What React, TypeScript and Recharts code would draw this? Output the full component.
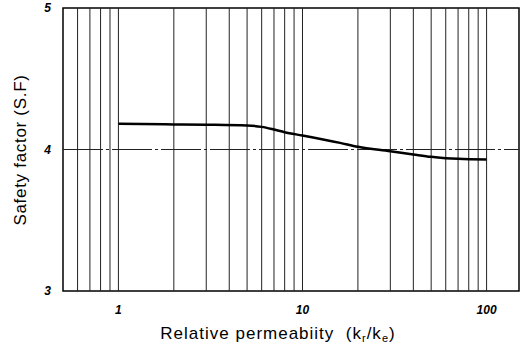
import React from 'react';
import { LineChart, Line, XAxis, YAxis, ReferenceLine, ReferenceArea, Label } from 'recharts';

// k_r / k_e values along the curve and the safety factor read at each
const permeability = [1, 2, 3, 5, 6, 7, 8, 10, 16, 20, 30, 40, 50, 60, 70, 100];
const safetyFactor = [4.182, 4.177, 4.175, 4.17, 4.16, 4.141, 4.122, 4.099, 4.047, 4.019, 3.988, 3.965, 3.948, 3.939, 3.934, 3.929];

const xTicks = [1, 10, 100];
const yTicks = [3, 4, 5];
const gridValues = [0.6, 0.7, 0.8, 0.9, 1, 2, 3, 4, 5, 6, 7, 8, 9, 10, 20, 30, 40, 50, 60, 70, 80, 90, 100];

const data = permeability.map((k, i) => ({ k, sf: safetyFactor[i] }));

const tickStyle = { fontSize: 12, fontWeight: 'bold', fontStyle: 'italic', fill: '#000', fontFamily: 'Liberation Sans, Arial, sans-serif' };
const titleFont = 'Liberation Sans, Arial, sans-serif';

const XTitle = () => (
  <text x={278} y={339} textAnchor="middle" fontSize={17} fontFamily={titleFont} fill="#000" letterSpacing={1}>
    Relative permeabiity{'\u00a0\u00a0'}(k
    <tspan fontSize={11} dy={3}>r</tspan>
    <tspan dy={-3}>/k</tspan>
    <tspan fontSize={11} dy={3}>e</tspan>
    <tspan dy={-3}>)</tspan>
  </text>
);

const YTitle = () => (
  <text x={26} y={150} transform="rotate(-90 26 150)" textAnchor="middle" fontSize={17} fontFamily={titleFont} fill="#000" letterSpacing={0.7}>
    Safety factor (S.F)
  </text>
);

export default function App() {
  return (
    <div style={{ position: 'absolute', left: 0, top: 0, background: '#fff' }}>
      <LineChart width={526} height={345} data={data} margin={{ top: 8, right: 7, bottom: 0, left: 33 }}>
        {gridValues.map((v) => (
          <ReferenceLine key={v} x={v} stroke="#222" strokeWidth={1} />
        ))}
        <ReferenceLine y={4} stroke="#222" strokeWidth={1} strokeDasharray="40 3 3 3" />
        <ReferenceArea x1={0.5} x2={150} y1={3} y2={5} fill="none" stroke="#000" strokeWidth={1.5} ifOverflow="visible" />
        <XAxis
          dataKey="k"
          type="number"
          scale="log"
          domain={[0.5, 150]}
          allowDataOverflow
          ticks={xTicks}
          tick={tickStyle}
          tickLine={false}
          axisLine={false}
          tickMargin={8}
          height={54}
        >
          <Label content={XTitle} />
        </XAxis>
        <YAxis
          type="number"
          domain={[3, 5]}
          ticks={yTicks}
          tick={tickStyle}
          tickLine={false}
          axisLine={false}
          tickMargin={6}
          width={30}
        >
          <Label content={YTitle} />
        </YAxis>
        <Line type="monotone" dataKey="sf" stroke="#000" strokeWidth={2.5} dot={false} isAnimationActive={false} />
      </LineChart>
    </div>
  );
}
